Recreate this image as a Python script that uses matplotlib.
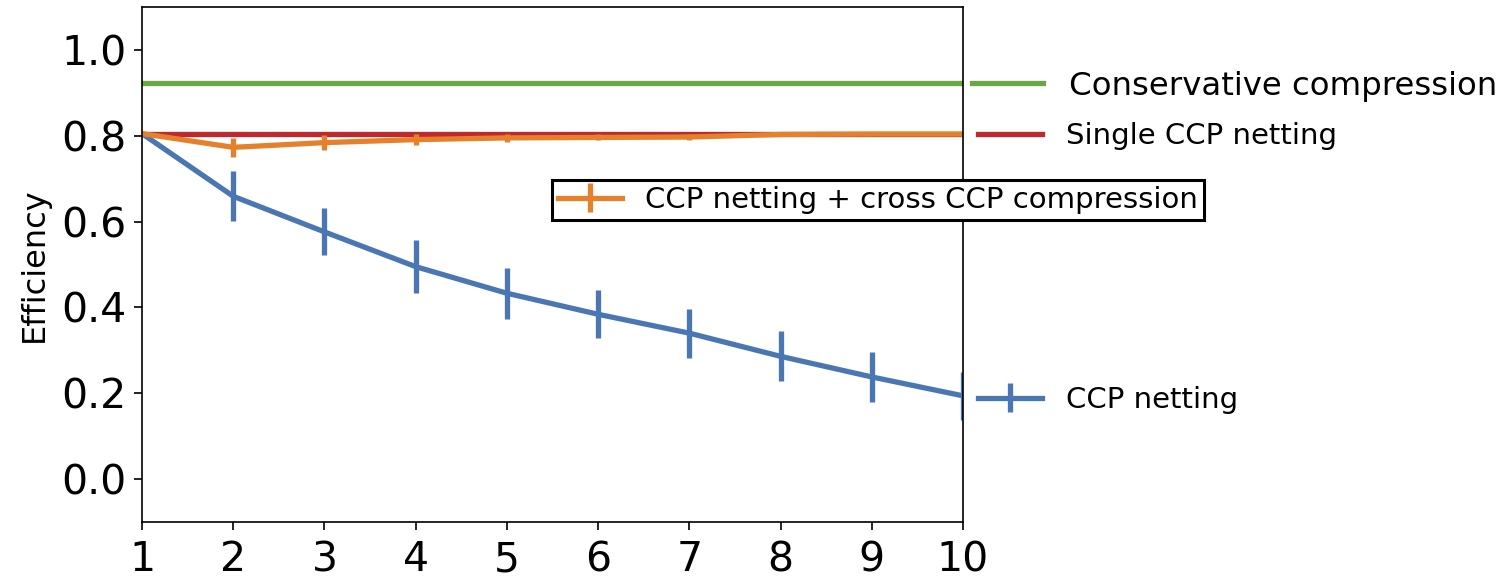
import numpy as np
from matplotlib import pyplot as plt

# number of CCPs
n_ccp = [1, 2, 3, 4, 5, 6, 7, 8, 9, 10]

conservative = 0.923
single_ccp = 0.805

ccp_netting = [0.805, 0.659, 0.576, 0.495, 0.433, 0.384, 0.340, 0.286, 0.238, 0.194]
ccp_netting_err = [0.0, 0.058, 0.055, 0.061, 0.059, 0.056, 0.057, 0.058, 0.059, 0.056]

ccp_cross = [0.805, 0.773, 0.784, 0.791, 0.795, 0.796, 0.797, 0.803, 0.804, 0.804]
ccp_cross_err = [0.0, 0.022, 0.018, 0.012, 0.009, 0.007, 0.006, 0.003, 0.002, 0.001]

c_blue = '#4a77b3'
c_orange = '#e6812b'
c_green = '#6aa841'
c_red = '#bf282d'

fig = plt.figure(figsize=(15.01, 5.81), dpi=100)
ax = fig.add_axes([142/1501, 1-522/581, (963-142)/1501, (522-7)/581])

lw = 3.8
h_blue = ax.errorbar(n_ccp, ccp_netting, yerr=ccp_netting_err, color=c_blue,
                     lw=lw, elinewidth=lw, capsize=0)
h_red, = ax.plot([n_ccp[0], n_ccp[-1]], [single_ccp, single_ccp], color=c_red, lw=lw)
h_orange = ax.errorbar(n_ccp, ccp_cross, yerr=ccp_cross_err, color=c_orange,
                       lw=lw, elinewidth=lw, capsize=0)
h_green, = ax.plot([n_ccp[0], n_ccp[-1]], [conservative, conservative], color=c_green, lw=lw)

ax.set_xlim(1, 10)
ax.set_ylim(-0.1, 1.1)
ax.set_xticks(n_ccp)
ax.set_yticks([0.0, 0.2, 0.4, 0.6, 0.8, 1.0])
ax.tick_params(labelsize=29.5, length=6, width=1.2, pad=5)
ax.tick_params(axis='x', pad=7)
ax.set_ylabel('Efficiency', fontsize=23, labelpad=8)
for s in ax.spines.values():
    s.set_linewidth(1.2)

def fig_leg(handle, label, x, y, size, frame=False):
    leg = fig.legend([handle], [label], loc='center left',
                     bbox_to_anchor=(x/1501, 1-y/581), fontsize=size,
                     frameon=frame, borderaxespad=0, borderpad=0.2 if frame else 0,
                     handlelength=2.2, handletextpad=0.8, fancybox=False)
    if frame:
        leg.get_frame().set_edgecolor('black')
        leg.get_frame().set_linewidth(2.2)
        leg.get_frame().set_alpha(1)
    return leg

fig_leg(h_green, 'Conservative compression', 972, 86, 23.3)
fig_leg(h_red, 'Single CCP netting', 978, 136, 21)
fig_leg(h_orange, 'CCP netting + cross CCP compression', 552, 200, 21, frame=True)
fig_leg(h_blue, 'CCP netting', 978, 400, 21)

fig.savefig('out.png', dpi=100)
